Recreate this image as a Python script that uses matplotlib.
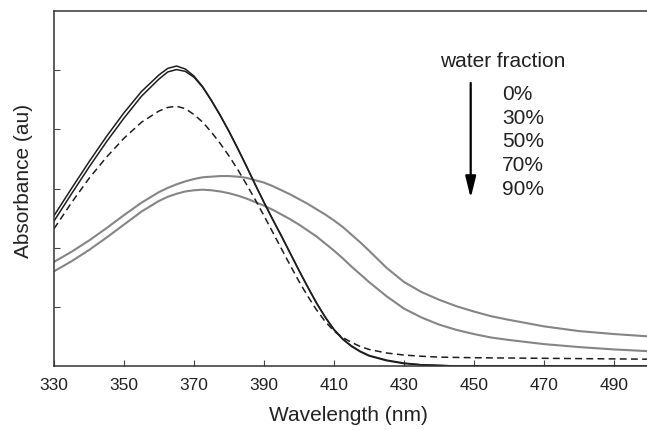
import matplotlib
matplotlib.use("Agg")
import matplotlib.pyplot as plt

plt.rcParams['font.family'] = ['Liberation Sans', 'DejaVu Sans']

# Wavelength grid (nm) and absorbance (arbitrary units)
wl = [330, 335, 340, 345, 350, 355, 360, 362.5, 365, 367.5, 370, 372.5, 375, 377.5, 380,
      382.5, 385, 387.5, 390, 392.5, 395, 397.5, 400, 402.5, 405, 407.5, 410, 412.5, 415,
      417.5, 420, 425, 430, 435, 440, 445, 450, 455, 460, 470, 480, 490, 500]

abs_0 = [2.54, 3.00, 3.45, 3.88, 4.28, 4.64, 4.92, 5.03, 5.07, 5.02, 4.90, 4.72, 4.49, 4.24, 3.97,
         3.68, 3.38, 3.07, 2.77, 2.48, 2.20, 1.91, 1.62, 1.34, 1.07, 0.83, 0.62, 0.46, 0.34,
         0.25, 0.18, 0.10, 0.05, 0.02, 0.01, 0.0, 0.0, 0.0, 0.0, 0.0, 0.0, 0.0, 0.0]
abs_30 = [2.45, 2.91, 3.36, 3.79, 4.19, 4.56, 4.85, 4.97, 5.01, 4.98, 4.88, 4.71, 4.48, 4.23, 3.96,
          3.67, 3.37, 3.06, 2.76, 2.47, 2.19, 1.90, 1.61, 1.33, 1.06, 0.82, 0.61, 0.45, 0.33,
          0.24, 0.17, 0.09, 0.04, 0.02, 0.01, 0.0, 0.0, 0.0, 0.0, 0.0, 0.0, 0.0, 0.0]
abs_50 = [2.32, 2.76, 3.17, 3.53, 3.85, 4.12, 4.31, 4.37, 4.39, 4.35, 4.25, 4.12, 3.95, 3.76, 3.55,
          3.32, 3.07, 2.81, 2.54, 2.26, 1.98, 1.70, 1.43, 1.18, 0.95, 0.75, 0.59, 0.48, 0.40,
          0.33, 0.28, 0.22, 0.185, 0.165, 0.15, 0.145, 0.14, 0.137, 0.135, 0.13, 0.125, 0.12, 0.115]
abs_70 = [1.76, 1.93, 2.12, 2.33, 2.55, 2.76, 2.94, 3.01, 3.07, 3.12, 3.16, 3.19, 3.20, 3.21, 3.21,
          3.20, 3.18, 3.14, 3.10, 3.04, 2.97, 2.90, 2.82, 2.74, 2.65, 2.56, 2.46, 2.35, 2.22,
          2.09, 1.95, 1.66, 1.42, 1.25, 1.12, 1.01, 0.92, 0.84, 0.78, 0.67, 0.59, 0.54, 0.50]
abs_90 = [1.60, 1.77, 1.96, 2.17, 2.39, 2.61, 2.79, 2.86, 2.91, 2.95, 2.97, 2.98, 2.97, 2.95, 2.92,
          2.88, 2.83, 2.77, 2.71, 2.64, 2.56, 2.48, 2.39, 2.29, 2.19, 2.07, 1.95, 1.82, 1.68,
          1.55, 1.42, 1.18, 0.97, 0.82, 0.70, 0.61, 0.54, 0.48, 0.44, 0.37, 0.32, 0.28, 0.25]

x_ticks = [330, 350, 370, 390, 410, 430, 450, 470, 490]
y_ticks = [1, 2, 3, 4, 5]
legend_title = "water fraction"
legend_items = ["0%", "30%", "50%", "70%", "90%"]

fig = plt.figure(figsize=(6.47, 4.30), dpi=100)
ax = fig.add_axes([54 / 647, 64 / 430, 593 / 647, 355 / 430])

black = '#1e1e1e'
grey = '#858585'
ax.plot(wl, abs_90, color=grey, lw=1.5)
ax.plot(wl, abs_70, color=grey, lw=1.5)
ax.plot(wl, abs_50, color=black, lw=1.1, linestyle=(0, (4.5, 2.8)))
ax.plot(wl, abs_30, color=black, lw=1.1)
ax.plot(wl, abs_0, color=black, lw=1.1)

ax.set_xlim(330, 330 + 593 / 3.5)
ax.set_ylim(0, 6)
ax.set_xticks(x_ticks)
ax.set_xticklabels([str(t) for t in x_ticks], fontsize=12.5, color='#222222')
ax.set_yticks(y_ticks)
ax.set_yticklabels([])
ax.tick_params(axis='both', direction='in', length=4, width=0.8, color='#444444')
ax.tick_params(axis='x', pad=9)
ax.spines['right'].set_visible(False)
for s in ['left', 'bottom', 'top']:
    ax.spines[s].set_linewidth(1.1)
    ax.spines[s].set_color('#333333')

ax.set_xlabel("Wavelength (nm)", fontsize=15, color='#222222')
ax.xaxis.set_label_coords(0.497, -0.112)
ax.set_ylabel("Absorbance (au)", fontsize=15, color='#222222')
ax.yaxis.set_label_coords(-0.035, 0.52)

# legend-like annotation
fig.text(440 / 647, 1 - 67 / 430, legend_title, fontsize=15, color='#222222',
         ha='left', va='baseline')
for i, lab in enumerate(legend_items):
    yb = 100 + i * 23.7
    fig.text(502 / 647, 1 - yb / 430, lab, fontsize=15, color='#222222',
             ha='left', va='baseline')

ax.annotate('', xy=(470.7, 430 - 198), xytext=(470.7, 430 - 83),
            xycoords='figure pixels', textcoords='figure pixels',
            arrowprops=dict(arrowstyle='-|>,head_length=1.3,head_width=0.32',
                            color='black', lw=1.6, shrinkA=0, shrinkB=0,
                            mutation_scale=10))

fig.savefig('out.png', dpi=100)
